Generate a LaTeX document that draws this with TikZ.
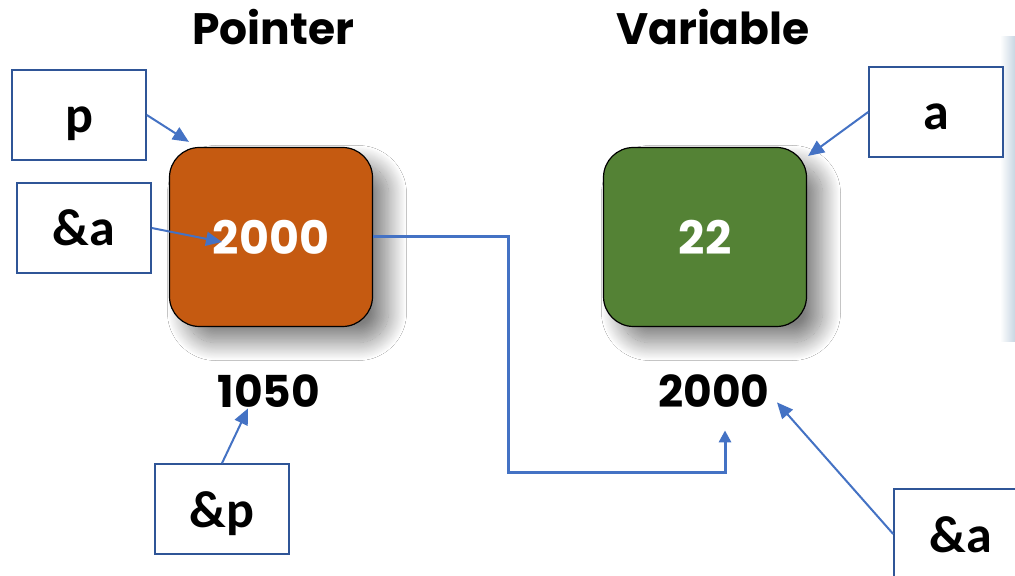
\documentclass[tikz,border=0pt]{standalone}
\usepackage{fontspec}
\usepackage{xcolor}
\usepackage{tikz}
\usetikzlibrary{positioning, calc, arrows.meta, shadows.blur}
\newfontfamily\headfont{Poppins}
\newfontfamily\tagfont{Carlito}
\definecolor{ptrOrange}{HTML}{C55A11}
\definecolor{varGreen}{HTML}{548235}
\definecolor{tagBlue}{HTML}{2F5597}
\definecolor{linkBlue}{HTML}{4472C4}
\definecolor{edgeGray}{RGB}{200, 214, 226}
\tikzset{
    cell/.style={
        rectangle,
        rounded corners=15pt,
        draw=black,
        line width=0.6pt,
        minimum width=101.5pt,
        minimum height=89.5pt,
        text=white,
        font=\headfont\bfseries\fontsize{23}{28}\selectfont,
        blur shadow={shadow xshift=8pt, shadow yshift=-8pt, shadow blur radius=9pt, shadow blur steps=30, shadow opacity=50}
    },
    tag/.style={
        rectangle,
        draw=tagBlue,
        line width=0.8pt,
        fill=white,
        minimum width=67pt,
        minimum height=45pt,
        text height=18pt,
        text depth=0pt,
        font=\tagfont\bfseries\fontsize{26}{30}\selectfont
    },
    title/.style={
        font=\headfont\bfseries\fontsize{22}{26}\selectfont,
        anchor=base
    },
    addr/.style={
        font=\headfont\bfseries\fontsize{22}{28}\selectfont,
        inner sep=0pt,
        anchor=base
    },
    pointsto/.style={
        -{Triangle[length=8pt, width=7pt]},
        line width=1pt,
        draw=linkBlue
    },
    link/.style={
        -{Triangle[length=6pt, width=6pt]},
        line width=1.5pt,
        draw=linkBlue
    }
}

\begin{document}
\begin{tikzpicture}[x=0.5pt, y=-0.5pt]
  \clip (0,0) rectangle (1015,576);
  \fill[white] (0,0) rectangle (1015,576);
  \shade[left color=white, right color=edgeGray] (1000,37) rectangle (1015,342);

  % Headings
  \node[title] (ptrtitle) at (273,45) {Pointer};
  \node[title] (vartitle) at (713,45) {Variable};

  % Memory cells
  \node[cell, fill=ptrOrange] (ptr) at (271,237) {2000};
  \node[cell, fill=varGreen] (var) at (705,237) {22};

  % Addresses
  \node[addr] (ptraddr) at (269,408) {1050};
  \node[addr] (varaddr) at (714,408) {2000};

  % Expression tags
  \node[tag] (tagp) at (79,115) {p};
  \node[tag] (tagamp) at (84,228) {\&a};
  \node[tag] (taga) at (936,112) {a};
  \node[tag] (tagpp) at (222,509) {\&p};
  \node[tag] (tagva) at (961,534) {\&a};

  % Tag arrows
  \draw[pointsto] (tagp.east) -- ($(ptr.north west)+(20,-5)$);
  \draw[pointsto] (tagamp.east) -- ($(ptr.center)+(-49,5)$);
  \draw[pointsto] (taga.west) -- ($(var.north east)+(1,9)$);
  \draw[pointsto] (tagpp.north) -- ($(ptraddr.south)+(-21,0)$);
  \draw[pointsto] (tagva.west) -- ($(varaddr.south east)+(7,-6)$);

  % p holds the address of a
  \draw[link] (ptr.east) -- ++(135,0) |- ($(varaddr.south)+(11,64)$) -- ($(varaddr.south)+(11,22)$);
\end{tikzpicture}
\end{document}
